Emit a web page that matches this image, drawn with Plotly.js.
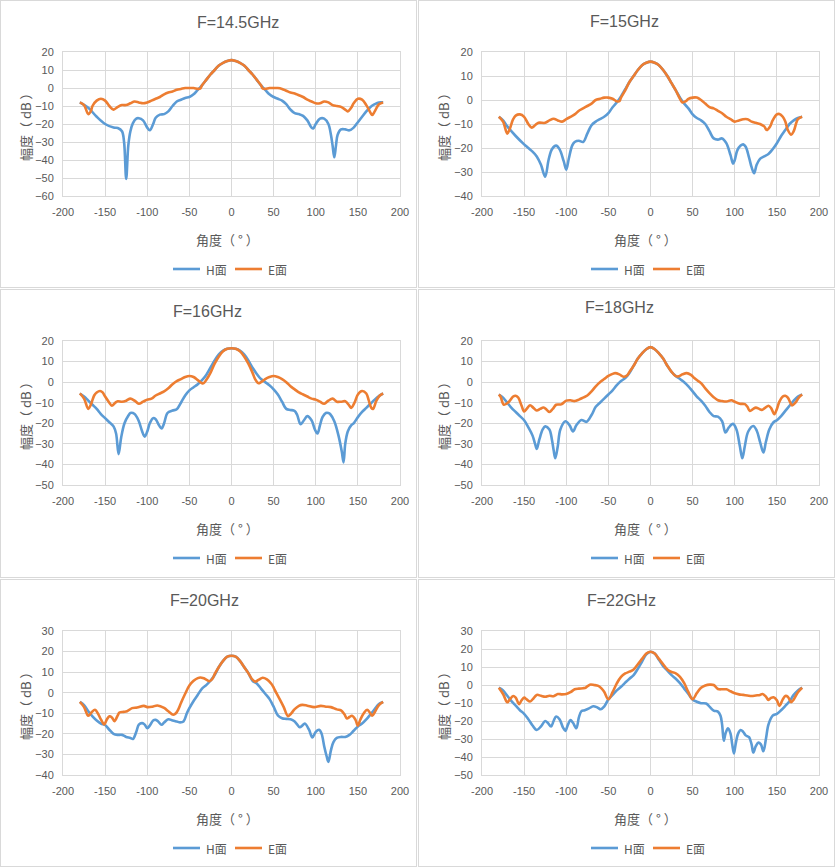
<!DOCTYPE html>
<html><head><meta charset="utf-8">
<script src="https://cdn.plot.ly/plotly-3.0.1.min.js"></script>
<style>
body{margin:0;background:#fff;width:835px;height:867px;position:relative;overflow:hidden}
.plot{position:absolute;width:416px;height:287px}
.frame{position:absolute;box-sizing:border-box;border:1px solid #d9d9d9;pointer-events:none}
</style></head><body>
<script>
// ---------- data (angle in degrees, amplitude in dB) ----------
// F = 14.5 GHz
const ang_H145 = [-180,-170,-160,-150,-140,-135,-130,-127.5,-125,-122.5,-120,-117,-113,-110,-105,-100,-97,-93,-90,-85,-80,-75,-70,-65,-60,-55,-50,-45,-40,-35,-30,-25,-20,-15,-10,-5,0,5,10,15,20,25,30,35,40,45,50,55,60,65,70,75,80,85,90,95,97,100,105,110,115,118,120,122,124,126,130,135,140,145,150,155,160,165,170,175,180];
const val_H145 = [-8,-11,-16,-20,-22,-22.2,-24,-30,-50.5,-32,-24,-19.5,-17,-16.8,-18,-22,-23.5,-20,-16.5,-14.8,-14.5,-13,-10,-7.5,-6.5,-5.5,-5,-3.5,-1,1.5,4.5,7.5,10,12.5,14,15,15.5,15,14,12.5,10,7.5,4.5,1.5,-1,-3.5,-5,-6,-7,-9,-12,-14,-14.5,-15.5,-18,-22,-22.5,-20,-17,-17,-20,-26,-32,-38.5,-32,-26,-23,-23,-23.5,-22,-19,-16,-13,-10.5,-9,-8,-8];
const ang_E145 = [-180,-175,-170,-167,-165,-160,-155,-150,-145,-140,-135,-130,-125,-120,-115,-110,-105,-100,-95,-90,-85,-80,-75,-70,-65,-60,-55,-50,-45,-40,-37,-35,-30,-25,-20,-15,-10,-5,0,5,10,15,20,25,30,35,37,40,45,50,55,60,65,70,75,80,85,90,95,100,105,110,115,120,125,130,135,138,142,145,150,155,160,163,167,170,175,180];
const val_E145 = [-8,-9.5,-14.5,-13,-10,-7,-6,-7,-10,-12,-10.5,-9.5,-9.5,-8.5,-7.5,-8,-8.5,-8,-7,-6,-5,-3.5,-2.5,-2,-1,-0.5,0,0,0,-0.5,-0.3,1.5,4.5,7.5,10,12.5,14,15,15.5,15,14,12.5,10,7.5,4.5,1.5,-0.3,-0.5,0,0,0,-0.5,-1.5,-2.5,-3,-4,-5,-6.5,-7.5,-8.5,-8.5,-7.5,-8,-9.5,-10,-10.5,-12,-13,-11,-8.5,-6,-6.5,-9.5,-12,-15,-13,-9,-8];
// F = 15 GHz
const ang_H15 = [-180,-175,-170,-160,-150,-145,-140,-135,-130,-125,-121,-117,-112,-108,-103,-100,-97,-93,-90,-85,-80,-75,-70,-65,-60,-55,-50,-45,-40,-35,-30,-25,-20,-15,-10,-5,0,5,10,15,20,25,30,35,40,45,50,55,60,65,70,75,80,85,90,95,98,100,103,107,110,113,117,120,123,126,130,135,140,145,150,155,160,165,170,175,180];
const val_H15 = [-7,-8.5,-11,-15,-18.5,-20,-21.5,-23.5,-27,-32,-25,-20.5,-19,-20.5,-25.5,-29,-24.5,-19,-17.5,-17,-17.5,-14,-10.5,-9,-8,-7,-5.5,-3,-1,1.5,4.5,7.5,10,12.5,14.5,15.5,16,15.5,14.5,12.5,10,7,4,1,-1.5,-3.5,-6,-7.5,-8.5,-10,-13,-16,-16.5,-16,-18,-23,-26.5,-25,-21,-19,-18.5,-19.5,-24,-28,-30.5,-27,-24.5,-23.5,-22.5,-20.5,-18,-15,-12.5,-10,-8.5,-7.5,-7];
const ang_E15 = [-180,-175,-170,-167,-163,-160,-155,-150,-145,-141,-137,-133,-125,-120,-115,-110,-105,-100,-95,-90,-85,-80,-75,-70,-65,-60,-55,-50,-45,-40,-37,-35,-30,-25,-20,-15,-10,-5,0,5,10,15,20,25,30,35,38,42,45,50,55,60,65,70,75,80,85,90,95,100,105,110,115,120,125,130,135,138,142,145,150,153,157,160,163,167,170,175,180];
const val_E15 = [-7,-9,-14,-12,-8,-6.5,-6,-7,-10,-11.5,-10.5,-9.5,-9.5,-8.5,-7.8,-8.5,-9,-8,-7,-6,-4.5,-3.5,-2.5,-1.5,0,0.5,1,1,0.5,-0.5,-0.5,1,4,7.5,10,12.5,14.5,15.5,16,15.5,14.5,12.5,10,7,4,0.5,-1,-0.5,0.5,1,1,0,-1.5,-3,-3.5,-4.5,-5.5,-7,-8,-9,-8.5,-8,-8,-9,-9.5,-10,-11,-12.5,-11,-8.5,-6,-5.8,-7,-9,-12.5,-14.5,-13,-8,-7];
// F = 16 GHz
const ang_H16 = [-180,-175,-170,-165,-160,-155,-150,-145,-140,-137,-134,-131,-127,-122,-120,-115,-110,-106,-103,-100,-97,-93,-90,-86,-83,-80,-76,-70,-65,-60,-55,-50,-45,-40,-35,-30,-25,-20,-15,-10,-5,0,5,10,15,20,25,30,35,40,45,50,55,60,65,70,75,78,82,86,90,95,99,102,105,108,112,115,117,122,127,131,133,135,138,142,145,150,155,160,165,170,175,180];
const val_H16 = [-5.5,-7,-9,-11,-13,-15.5,-17.5,-19.5,-21.5,-25,-35,-27,-20,-16,-15,-15.5,-19,-24,-26.5,-24,-20,-17.5,-18,-21,-22.5,-20,-15,-13.8,-13.2,-10,-6.5,-4,-2.5,-1,1,3.5,7,10.5,13.5,15.3,16.2,16.5,16.2,15.3,13.5,10.5,7,4,1.5,0,-1.5,-3.5,-6,-9.5,-13,-13.5,-14,-16,-20.5,-18.5,-16.5,-18.5,-23,-25,-21,-17,-15,-15,-15.5,-19,-26,-34,-39,-30,-24,-21,-20,-17,-14.5,-12.5,-10.5,-8.5,-6.8,-5.5];
const ang_E16 = [-180,-175,-170,-167,-163,-160,-156,-153,-150,-145,-142,-138,-135,-130,-125,-120,-115,-110,-105,-100,-95,-90,-85,-80,-75,-70,-65,-60,-55,-50,-45,-40,-35,-33,-30,-25,-20,-15,-10,-5,0,5,10,15,20,25,28,32,35,40,45,50,55,60,65,70,75,80,85,90,95,100,105,110,115,120,125,130,135,140,142,146,150,155,160,163,166,168,172,176,180];
const val_E16 = [-5.5,-8,-13,-11,-6.5,-5,-4.3,-5,-7,-10,-11.5,-10,-9.3,-9.5,-9,-8,-9,-10.5,-9.5,-8.5,-8,-6.5,-5.5,-4.5,-3,-1,0.5,1.5,2.5,3,2.5,1,-0.5,-0.5,1,4.5,9,12.5,15,16.2,16.5,16.2,15,12.5,9,4.5,1.5,-0.5,0,1.5,2.5,3,2.5,1.5,0,-2,-3.5,-5,-6,-7,-8,-8.5,-9.5,-10.5,-9,-8,-9.5,-9.5,-9.3,-11.5,-12.5,-10,-6,-4.3,-5.5,-9,-12.5,-13,-9,-6.5,-5.5];
// F = 18 GHz
const ang_H18 = [-180,-175,-170,-165,-160,-155,-150,-145,-140,-137,-135,-132,-128,-125,-120,-117,-115,-113,-110,-107,-101,-96,-92,-88,-82,-76,-70,-65,-60,-55,-50,-45,-40,-35,-30,-25,-20,-15,-10,-5,0,5,10,15,20,25,30,35,40,45,50,55,60,65,70,75,80,85,89,93,98,102,106,109,112,116,122,126,130,134,137,141,146,150,155,160,165,170,175,180];
const val_H18 = [-6,-7.5,-10,-12.5,-14.5,-16.5,-18.5,-22,-26,-30,-32.5,-28,-23,-21.5,-23,-28,-33,-37,-31,-23,-19,-21,-24,-21,-18.4,-19.3,-16,-12,-10,-8,-6,-4,-1.5,0.5,2,4.5,8,11.5,14,16,17,16,14,11.5,8,5,3,1.5,0,-2,-4.5,-7,-9,-11.5,-14.5,-16.5,-16.8,-19,-24.5,-22,-20.3,-23,-31,-37,-31,-24,-21.3,-23.5,-29,-34.2,-29,-23,-19.5,-18.5,-16.5,-14,-11.5,-9,-7,-6];
const ang_E18 = [-180,-178,-174,-168,-163,-160,-157,-153,-150,-147,-143,-139,-135,-131,-127,-123,-120,-116,-112,-106,-100,-95,-90,-85,-80,-75,-70,-65,-60,-55,-50,-45,-42,-37,-32,-28,-25,-20,-15,-10,-5,0,5,10,15,20,25,30,33,38,43,48,52,55,60,65,70,75,80,85,90,96,100,106,112,115,118,122,125,129,132,136,140,143,147,150,153,157,160,163,166,168,172,176,180];
const val_E18 = [-6,-7,-11,-9.5,-7,-6.6,-7.5,-11.5,-14.3,-13,-11.2,-12.5,-13.8,-13,-12.3,-13.5,-14.5,-13,-11,-10.8,-9,-8.8,-9.2,-8.5,-7.5,-6.5,-4.5,-2,0,1.5,3,4,4.4,3.8,2.6,3.2,5,8,11.5,14,16,17,16,14,11.5,8,5,2.9,2.8,3.8,4.4,3.5,2,1,-0.5,-3,-5.3,-7.3,-8.8,-9.2,-9.4,-8.8,-9.5,-10.5,-10.7,-12,-14,-13,-12.4,-13,-13.5,-12.5,-11.5,-12.5,-15.6,-13,-9.5,-7,-6.6,-7.5,-10,-11.3,-10,-7.5,-6];
// F = 20 GHz
const ang_H20 = [-180,-175,-170,-165,-160,-155,-150,-145,-140,-135,-130,-125,-120,-117,-113,-110,-106,-103,-100,-97,-93,-90,-87,-83,-80,-75,-70,-65,-61,-57,-53,-50,-45,-40,-35,-30,-25,-20,-15,-10,-5,0,5,10,15,20,25,30,35,40,45,50,55,60,65,70,75,81,84,87,92,96,100,104,107,110,113,115,118,121,125,130,135,140,145,150,155,160,165,170,175,180];
const val_H20 = [-4.5,-6,-9,-11.5,-13.5,-15,-15.7,-18,-20,-20.5,-20.5,-21.5,-22,-22.5,-19,-15.5,-14.8,-15.5,-17.2,-16,-13.5,-13.2,-14,-15.6,-14.5,-12.9,-13.5,-14,-14.4,-14,-10,-7.5,-4,-1,2,3.7,5.8,8.6,12.5,15.5,17.5,18,17.5,15.5,12.5,9.5,5.8,4.5,2,-0.5,-3,-6.8,-11,-12.4,-12.7,-12.9,-14,-16.8,-16,-15,-18,-21.8,-19,-18,-20,-26,-31,-33.6,-28,-24,-22,-21.5,-21.5,-20.5,-18.5,-16.4,-15,-13,-10.5,-8,-5.5,-4.5];
const ang_E20 = [-180,-175,-170,-166,-162,-158,-155,-151,-148,-145,-142,-139,-135,-133,-128,-124,-118,-112,-104,-100,-94,-88,-80,-75,-69,-66,-63,-60,-55,-50,-45,-40,-37,-33,-30,-26,-22,-20,-15,-10,-5,0,5,10,15,20,24,28,32,37,42,47,50,53,57,62,67,70,75,80,84,90,98,106,112,118,125,130,134,137,140,143,147,150,153,157,161,164,167,170,175,180];
const val_E20 = [-4.5,-7,-11.2,-9.5,-8.3,-10.5,-13,-15.4,-13,-11.5,-12,-13.8,-11,-9.6,-9.3,-9,-7.5,-7.2,-6.4,-7,-6.8,-6.2,-7.4,-9,-10.7,-10,-8,-5,-0.5,3.5,5.8,7.1,7.4,7,6.4,5.6,7.2,9,12.5,15.5,17.5,18,17.5,15.5,12.5,9.5,6.8,5.4,6.2,7.3,6.5,4.5,2.5,0,-3,-7,-11.4,-10.5,-8,-6.4,-5.9,-6.3,-7,-6.4,-6.8,-7,-8.1,-8.6,-10.5,-12.5,-11.8,-11.2,-13,-16,-13,-10,-8.3,-9.5,-11.2,-9.5,-6,-4.5];
// F = 22 GHz
const ang_H22 = [-180,-175,-170,-165,-160,-155,-150,-145,-140,-135,-130,-125,-122,-118,-115,-112,-108,-104,-101,-98,-95,-92,-88,-85,-82,-78,-73,-68,-63,-59,-55,-50,-45,-40,-35,-30,-25,-20,-15,-10,-5,0,5,10,15,20,25,30,35,40,45,50,55,60,66,70,75,80,83,85,87,89,92,95,97,99,101,104,107,110,113,117,120,122,125,128,131,134,137,140,145,150,155,160,165,170,175,180];
const val_H22 = [-1.5,-3,-6,-9,-11.5,-14,-16,-19,-22.5,-25,-23,-20,-21,-23,-20,-17.5,-19,-23.5,-25.5,-22,-19.5,-21,-24,-18,-14.5,-14,-13,-11.8,-12.5,-13.5,-12,-8,-5.5,-3,-1,1.3,3.5,5.5,9,13,17,18.5,17.5,14,10.5,8,5.5,3.5,1,-2,-5,-8,-9.3,-10.1,-10.3,-12,-14.2,-14.8,-17,-22,-31,-27,-24,-27,-33,-38,-33,-27,-25,-26,-28,-29,-33,-37.5,-34,-32,-33,-36.8,-30,-22,-17,-16,-14,-11.6,-9,-5.5,-3,-1.5];
const ang_E22 = [-180,-175,-170,-167,-163,-160,-156,-153,-150,-147,-143,-140,-135,-130,-125,-120,-115,-110,-105,-100,-95,-90,-85,-80,-77,-72,-67,-62,-58,-55,-50,-45,-40,-35,-30,-25,-20,-15,-10,-5,0,5,10,15,20,25,30,35,40,45,50,55,60,65,70,75,80,85,90,95,100,105,110,115,120,125,130,133,137,140,143,146,150,153,157,160,163,167,170,175,180];
const val_E22 = [-1.5,-5,-9.6,-8,-6.1,-7,-10.6,-8.5,-7,-8,-9.2,-8,-5.5,-6,-6.5,-6,-6.2,-5,-5.2,-5,-4,-2.4,-2,-1.8,-1.5,0.2,0,-0.5,-2,-3.7,-7.9,-4,0.9,4.5,6.4,7.4,8.6,11.5,14.5,17.5,18.5,17.5,14.5,11.5,8.6,7.2,6.5,4.5,1,-4,-7.9,-4.5,-1.5,-0.3,0.2,0,-2.2,-2.4,-2.4,-3.5,-4.6,-5.2,-5.5,-5.8,-6.1,-5.8,-5.5,-5,-6.5,-8.3,-7.2,-6.8,-8.5,-11.6,-8,-6.1,-6.5,-9.6,-8,-4,-1.5];

// ---------- text ----------
const ticks_x = [-200,-150,-100,-50,0,50,100,150,200];
const series_names = ['H面', 'E面'];
const x_title = '角度（ ° ）';
const y_title = '幅度（ dB ）';

// ---------- panel config ----------
const panels = [
  {title:'F=14.5GHz', left:0,   top:0,   tx:238, ty:22, yr:[-60,20], H:[ang_H145,val_H145], E:[ang_E145,val_E145], l:63},
  {title:'F=15GHz',   left:418, top:0,   tx:206, ty:21, yr:[-40,20], H:[ang_H15,val_H15],   E:[ang_E15,val_E15],   l:64},
  {title:'F=16GHz',   left:0,   top:289, tx:207, ty:22, yr:[-50,20], H:[ang_H16,val_H16],   E:[ang_E16,val_E16],   l:63},
  {title:'F=18GHz',   left:418, top:289, tx:201, ty:19, yr:[-50,20], H:[ang_H18,val_H18],   E:[ang_E18,val_E18],   l:64},
  {title:'F=20GHz',   left:0,   top:579, tx:204, ty:21, yr:[-40,30], H:[ang_H20,val_H20],   E:[ang_E20,val_E20],   l:63},
  {title:'F=22GHz',   left:418, top:579, tx:203, ty:21, yr:[-50,30], H:[ang_H22,val_H22],   E:[ang_E22,val_E22],   l:64}
];
const FONT = '"Liberation Sans", Arial, "Noto Sans CJK SC", sans-serif';
const CJK = '"Noto Sans CJK SC", "Liberation Sans", sans-serif';
const GREY = '#595959', GRID = '#d9d9d9';
const COLORS = ['#5B9BD5', '#ED7D31'];
const W = 416, Hh = 287, PW = 337, PT = 52, PH = 144;

panels.forEach((p, i) => {
  const d = document.createElement('div');
  d.className = 'plot'; d.id = 'p' + i;
  d.style.left = p.left + 'px'; d.style.top = p.top + 'px';
  document.body.appendChild(d);
  const f = document.createElement('div');
  f.className = 'frame';
  f.style.left = p.left + 'px'; f.style.top = p.top + 'px';
  f.style.width = '417px'; f.style.height = (i >= 2 && i <= 3 ? 289 : 288) + 'px';
  document.body.appendChild(f);

  const traces = [
    {x:p.H[0], y:p.H[1], name:series_names[0], type:'scatter', mode:'lines',
     line:{color:COLORS[0], width:2.6, shape:'spline', smoothing:1}},
    {x:p.E[0], y:p.E[1], name:series_names[1], type:'scatter', mode:'lines',
     line:{color:COLORS[1], width:2.6, shape:'spline', smoothing:1}}
  ];
  const bottom = PT + PH;
  const toY = px => (bottom - px) / PH;
  const toX = px => (px - p.l) / PW;
  // manual legend (keeps the plot area fixed)
  const legY = toY(269);
  const legShapes = [[173, 200], [235, 262]].map((s, k) => ({
    type: 'line', xref: 'paper', yref: 'paper', x0: toX(s[0]), x1: toX(s[1]), y0: legY, y1: legY,
    line: {color: COLORS[k], width: 2.6}
  }));
  const legText = [204, 266].map((x, k) => ({
    text: series_names[k], xref: 'paper', yref: 'paper', x: toX(x), y: legY,
    xanchor: 'left', yanchor: 'middle', showarrow: false,
    font: {family: CJK, size: 12, color: GREY}
  }));
  const layout = {
    width: W, height: Hh,
    margin: {l: p.l, r: W - p.l - PW, t: PT, b: Hh - bottom, pad: 0},
    paper_bgcolor: 'rgba(0,0,0,0)', plot_bgcolor: '#fff',
    font: {family: FONT, color: GREY, size: 11},
    showlegend: false,
    xaxis: {range: [-200, 200], tickvals: ticks_x, ticktext: ticks_x.map(String),
            showgrid: true, gridcolor: GRID, gridwidth: 1,
            zeroline: true, zerolinecolor: GRID, zerolinewidth: 1,
            showline: true, linecolor: GRID, linewidth: 1, mirror: true,
            ticks: 'outside', ticklen: 6, tickcolor: 'rgba(0,0,0,0)',
            tickfont: {size: 11, color: GREY}, fixedrange: true},
    yaxis: {range: p.yr, dtick: 10, tick0: 0,
            showgrid: true, gridcolor: GRID, gridwidth: 1,
            zeroline: true, zerolinecolor: GRID, zerolinewidth: 1,
            showline: true, linecolor: GRID, linewidth: 1, mirror: true,
            ticks: 'outside', ticklen: 6, tickcolor: 'rgba(0,0,0,0)',
            tickfont: {size: 11, color: GREY}, fixedrange: true},
    shapes: legShapes,
    annotations: [
      {text: p.title, xref: 'paper', yref: 'paper', x: toX(p.tx), y: toY(p.ty),
       xanchor: 'center', yanchor: 'middle', showarrow: false,
       font: {family: FONT, size: 16, color: GREY}},
      {text: x_title, xref: 'paper', yref: 'paper', x: toX(227), y: toY(239),
       xanchor: 'center', yanchor: 'middle', showarrow: false,
       font: {family: CJK, size: 13, color: GREY}},
      {text: y_title, xref: 'paper', yref: 'paper', x: toX(25), y: 0.5,
       xanchor: 'center', yanchor: 'middle', showarrow: false, textangle: -90,
       font: {family: CJK, size: 13, color: GREY}}
    ].concat(legText)
  };
  Plotly.newPlot(d, traces, layout, {displayModeBar: false, staticPlot: true});
});
</script>
</body></html>
